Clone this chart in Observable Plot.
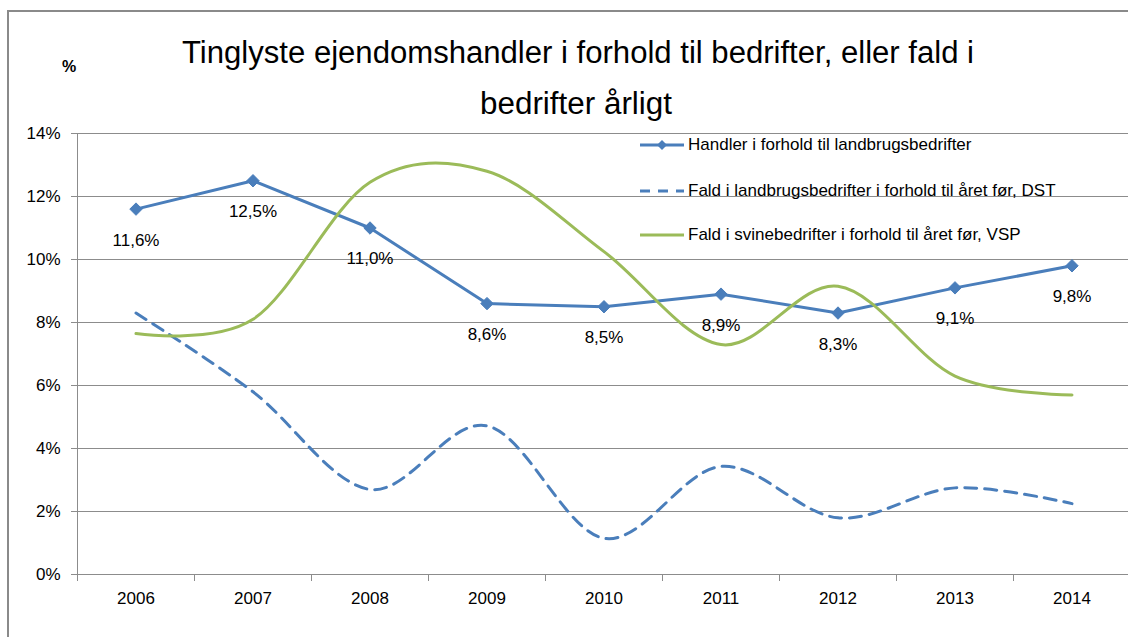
<!DOCTYPE html>
<html><head><meta charset="utf-8">
<script src="https://cdn.jsdelivr.net/npm/d3@7"></script>
<script src="https://cdn.jsdelivr.net/npm/@observablehq/plot@0.6"></script>
<style>
html,body{margin:0;padding:0;background:#fff;overflow:hidden;}
#wrap{position:relative;width:1128px;height:637px;overflow:hidden;font-family:"Liberation Sans",Arial,sans-serif;color:#000;}
#frame{position:absolute;left:7px;top:10px;width:1300px;height:800px;border-left:2px solid #8a8a8a;border-top:2px solid #8a8a8a;}
#chart{position:absolute;left:0;top:0;width:1140px;height:637px;}
#chart svg{max-width:none !important;}
#title{position:absolute;left:0;top:0;}
#pct{position:absolute;left:62px;top:58px;font-size:16px;font-weight:bold;}
.leg{position:absolute;left:640px;height:20px;display:flex;align-items:center;font-size:17px;white-space:nowrap;}
.leg svg{margin-right:4px;}
</style></head>
<body><div id="wrap">
<div id="frame"></div>
<div id="chart"></div>
<svg id="title" width="1128" height="130" font-family="Liberation Sans, Arial, sans-serif">
  <text id="t1" x="578" y="63" text-anchor="middle" font-size="31" lengthAdjust="spacingAndGlyphs" textLength="792"></text>
  <text id="t2" x="576" y="114" text-anchor="middle" font-size="31" lengthAdjust="spacingAndGlyphs" textLength="192"></text>
</svg>
<div id="pct">%</div>
<div id="legend"></div>
</div>
<script>
const titleLines = ["Tinglyste ejendomshandler i forhold til bedrifter, eller fald i", "bedrifter årligt"];
const years = [2006, 2007, 2008, 2009, 2010, 2011, 2012, 2013, 2014];
const handler = [11.6, 12.5, 11.0, 8.6, 8.5, 8.9, 8.3, 9.1, 9.8];
const handlerLabels = ["11,6%", "12,5%", "11,0%", "8,6%", "8,5%", "8,9%", "8,3%", "9,1%", "9,8%"];
const dst = [8.3, 5.8, 2.7, 4.72, 1.15, 3.43, 1.8, 2.75, 2.25];
const vsp = [7.65, 8.1, 12.45, 12.8, 10.25, 7.3, 9.15, 6.3, 5.7];
const yTicks = [0, 2, 4, 6, 8, 10, 12, 14];
const seriesNames = ["Handler i forhold til landbrugsbedrifter", "Fald i landbrugsbedrifter i forhold til året før, DST", "Fald i svinebedrifter i forhold til året før, VSP"];

const BLUE = "#4a7ebb", GREEN = "#9bbb59", GRAY = "#8c8c8c";

document.getElementById("t1").textContent = titleLines[0];
document.getElementById("t2").textContent = titleLines[1];

const boundaries = [...years.map(y => y - 0.5), years[years.length - 1] + 0.5];
const rows = years.map((y, i) => ({year: y, handler: handler[i], label: handlerLabels[i], dst: dst[i], vsp: vsp[i]}));

const chart = Plot.plot({
  width: 1140,
  height: 637,
  marginLeft: 77,
  marginRight: 10,
  marginTop: 133,
  marginBottom: 63,
  style: {fontFamily: "Liberation Sans, Arial, sans-serif", fontSize: "17px", background: "transparent", color: "#000", maxWidth: "none"},
  x: {type: "linear", domain: [boundaries[0], boundaries[boundaries.length - 1]]},
  y: {domain: [0, 14]},
  marks: [
    Plot.gridY(yTicks, {stroke: GRAY, strokeOpacity: 1}),
    Plot.axisY(yTicks, {tickSize: 6, tickPadding: 11, tickFormat: d => d + "%", fontSize: 17, stroke: GRAY, fill: "#000", label: null}),
    Plot.axisX(boundaries, {tickSize: 7, tickFormat: () => "", stroke: GRAY, label: null}),
    Plot.axisX(years, {tickSize: 0, tickPadding: 17, tickFormat: d => String(d), fontSize: 17, fill: "#000", label: null}),
    Plot.ruleX([boundaries[0]], {stroke: GRAY}),
    Plot.ruleY([0], {stroke: GRAY}),
    Plot.line(rows, {x: "year", y: "handler", stroke: BLUE, strokeWidth: 3}),
    Plot.dot(rows, {x: "year", y: "handler", symbol: "diamond2", r: 5.6, fill: BLUE, stroke: BLUE, strokeWidth: 1}),
    Plot.line(rows, {x: "year", y: "dst", curve: "cardinal", stroke: BLUE, strokeWidth: 3, strokeDasharray: "12,8"}),
    Plot.line(rows, {x: "year", y: "vsp", curve: "cardinal", stroke: GREEN, strokeWidth: 3}),
    Plot.text(rows, {x: "year", y: "handler", text: "label", dy: 31, fontSize: 17, fill: "#000"})
  ]
});
chart.style.maxWidth = "none";
document.getElementById("chart").appendChild(chart);

const legendTops = [135, 181, 225];
const swatches = [
  `<svg width="44" height="14"><line x1="0" y1="7" x2="44" y2="7" stroke="${BLUE}" stroke-width="3"/><path d="M22,2 L27,7 L22,12 L17,7 Z" fill="${BLUE}"/></svg>`,
  `<svg width="44" height="14"><line x1="0" y1="7" x2="44" y2="7" stroke="${BLUE}" stroke-width="3" stroke-dasharray="10,8"/></svg>`,
  `<svg width="44" height="14"><line x1="0" y1="7" x2="44" y2="7" stroke="${GREEN}" stroke-width="3"/></svg>`
];
const leg = document.getElementById("legend");
seriesNames.forEach((name, i) => {
  const d = document.createElement("div");
  d.className = "leg";
  d.style.top = legendTops[i] + "px";
  d.innerHTML = swatches[i] + `<span>${name}</span>`;
  leg.appendChild(d);
});
</script>
</body></html>
